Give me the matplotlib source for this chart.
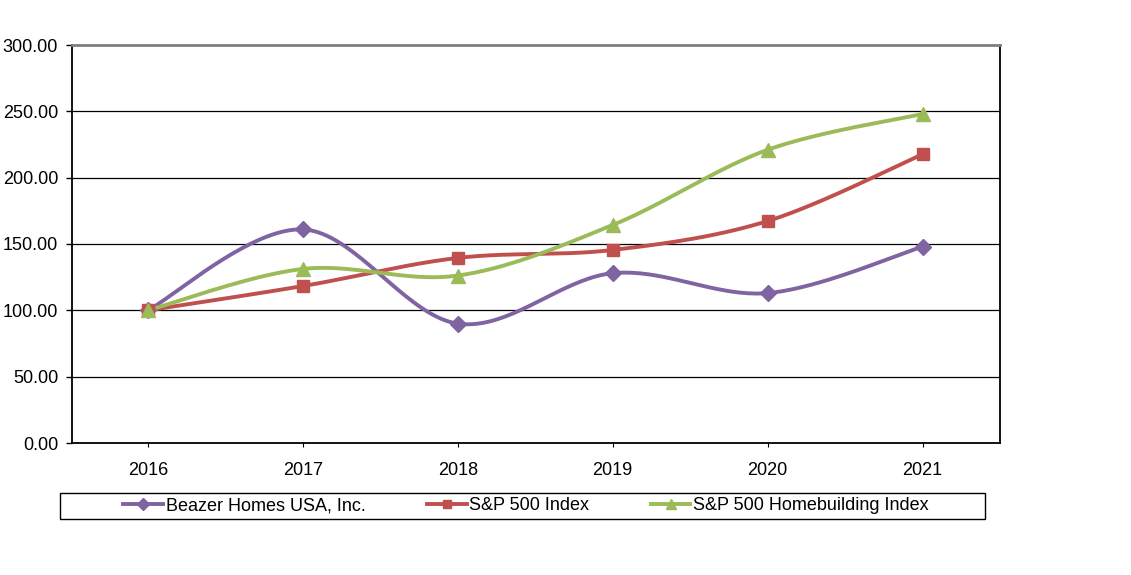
import numpy as np
import matplotlib
matplotlib.use("Agg")
import matplotlib.pyplot as plt
from matplotlib.lines import Line2D
from matplotlib.patches import Rectangle

years = ["2016", "2017", "2018", "2019", "2020", "2021"]
beazer = [100.0, 161.0, 90.0, 128.0, 113.0, 148.0]
sp500 = [100.0, 118.3, 139.5, 145.5, 167.3, 217.6]
homebuilding = [100.0, 131.2, 126.2, 164.3, 221.0, 248.0]

series = [
    ("Beazer Homes USA, Inc.", beazer, "#8064A2", "D", 8.5),
    ("S&P 500 Index", sp500, "#C0504D", "s", 8.5),
    ("S&P 500 Homebuilding Index", homebuilding, "#9BBB59", "^", 10),
]


def smooth(xs, ys, n=40):
    # Excel-like smoothed line: Catmull-Rom segments as cubic Beziers
    xs = np.asarray(xs, float)
    ys = np.asarray(ys, float)
    pts = np.column_stack([xs, ys])
    out = []
    for i in range(len(pts) - 1):
        p0 = pts[max(i - 1, 0)]
        p1 = pts[i]
        p2 = pts[i + 1]
        p3 = pts[min(i + 2, len(pts) - 1)]
        c1 = p1 + (p2 - p0) / 6.0
        c2 = p2 - (p3 - p1) / 6.0
        t = np.linspace(0, 1, n)[:, None]
        seg = ((1 - t) ** 3) * p1 + 3 * ((1 - t) ** 2) * t * c1 + 3 * (1 - t) * t ** 2 * c2 + t ** 3 * p2
        out.append(seg if i == 0 else seg[1:])
    out = np.vstack(out)
    return out[:, 0], out[:, 1]


plt.rcParams['font.family'] = ['Liberation Sans', 'DejaVu Sans']

fig = plt.figure(figsize=(11.31, 5.75), dpi=100)
ax = fig.add_axes([72 / 1131, 1 - 443 / 575, (1000 - 72) / 1131, (443 - 45) / 575])

x = np.arange(len(years))
handles = []
for label, vals, color, marker, ms in series:
    sx, sy = smooth(x, vals)
    ax.plot(sx, sy, color=color, lw=2.8, solid_capstyle='round', zorder=3)
    ax.plot(x, vals, linestyle='none', marker=marker, color=color, ms=ms, zorder=4)
    handles.append(Line2D([], [], color=color, lw=2.8, marker=marker, ms=ms * 0.75, label=label))

ax.set_xlim(-0.49, 5.5)
ax.set_ylim(0, 300)
ax.set_yticks(np.arange(0, 301, 50))
ax.set_yticklabels([f"{v:.2f}" for v in np.arange(0, 301, 50)])
ax.set_xticks(x)
ax.set_xticklabels(years)
ax.tick_params(axis='y', length=4, width=1, pad=6, labelsize=13)
ax.tick_params(axis='x', length=3, width=0.8, pad=11, labelsize=13)

for v in range(50, 300, 50):
    ax.axhline(v, color='black', lw=0.9, zorder=1)

for side in ['left', 'bottom', 'right']:
    ax.spines[side].set_color('black')
    ax.spines[side].set_linewidth(1.3)
ax.spines['top'].set_color('#808080')
ax.spines['top'].set_linewidth(2)

# legend box
fig.patches.append(Rectangle((60 / 1131, 1 - 519 / 575), (985 - 60) / 1131, 26 / 575,
                             transform=fig.transFigure, fill=False, edgecolor='black', lw=1))
fig.legend(handles=handles, loc='center', bbox_to_anchor=(526 / 1131, 1 - 506 / 575),
           ncol=3, frameon=False, fontsize=13, handlelength=2.2, handletextpad=0.15,
           columnspacing=3.4, borderpad=0)

fig.savefig("out.png", dpi=100)
